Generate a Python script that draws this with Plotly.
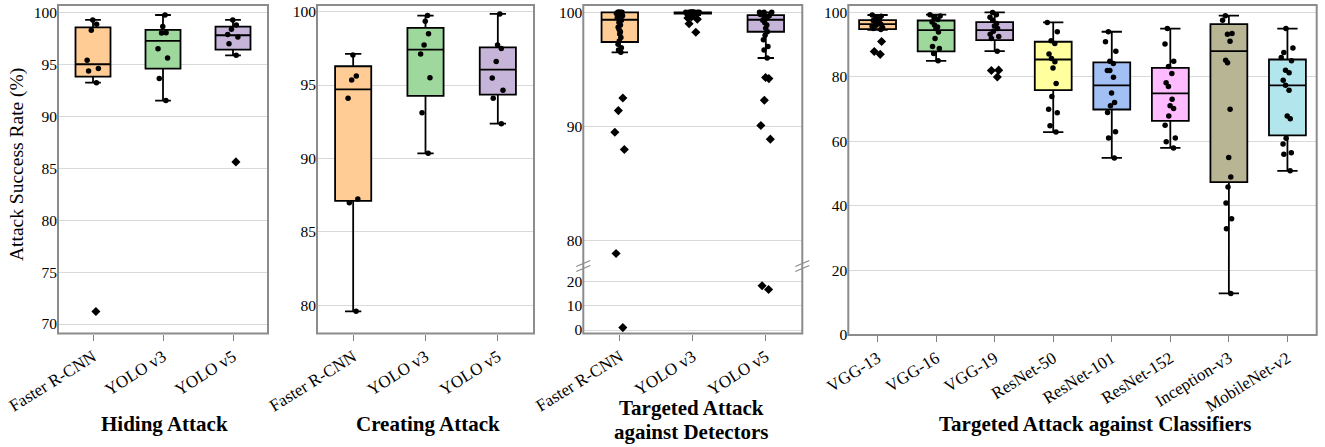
import plotly.graph_objects as go

W, H = 1325, 447
FONT = "Liberation Serif, Times New Roman, serif"

# ---------------- data ----------------
det_models = ["Faster R-CNN", "YOLO v3", "YOLO v5"]
cls_models = ["VGG-13", "VGG-16", "VGG-19", "ResNet-50", "ResNet-101",
              "ResNet-152", "Inception-v3", "MobileNet-v2"]

# Hiding attack
hide_q1 = [93.8, 94.58, 96.41]
hide_med = [95.0, 97.24, 97.79]
hide_q3 = [98.55, 98.3, 98.62]
hide_lo = [93.23, 91.5, 95.86]
hide_hi = [99.26, 99.74, 99.26]
hide_pts = [[99.26, 98.85, 98.27, 95.38, 94.58, 94.35, 93.23],
            [99.74, 98.62, 98.04, 98.0, 96.5, 95.6, 93.62, 91.5],
            [99.26, 98.78, 98.36, 97.85, 97.63, 96.98, 95.86]]
hide_out = [[71.2], [], [85.6]]

# Creating attack
create_q1 = [87.11, 94.26, 94.35]
create_med = [94.71, 97.41, 96.05]
create_q3 = [96.28, 98.89, 97.57]
create_lo = [79.59, 90.35, 92.37]
create_hi = [97.12, 99.73, 99.84]
create_pts = [[97.05, 95.62, 95.35, 94.1, 87.24, 86.99, 79.59],
              [99.73, 99.34, 98.5, 97.73, 97.12, 95.5, 93.12, 90.35],
              [99.84, 97.73, 97.48, 96.6, 95.48, 94.64, 94.1, 92.37]]
create_out = [[], [], []]

# Targeted attack against detectors
tdet_q1 = [97.4, 99.88, 98.3]
tdet_med = [99.35, 100.0, 99.35]
tdet_q3 = [100.0, 100.0, 99.76]
tdet_lo = [96.5, 99.75, 96.0]
tdet_hi = [100.0, 100.0, 100.0]
tdet_pts = [[100, 100, 100, 100, 100, 99.9, 99.8, 99.7, 99.6, 99.5, 99.3, 99.1,
             98.9, 98.7, 98.5, 98.3, 98.1, 97.8, 97.5, 97.2, 96.9, 96.7, 96.5],
            [100, 100, 100, 100, 100, 100, 100, 100, 100, 100, 100, 100,
             99.95, 99.9, 99.85, 99.8, 99.75],
            [100, 100, 100, 99.9, 99.8, 99.7, 99.6, 99.5, 99.3, 99.1, 98.9,
             98.6, 98.3, 98.0, 97.6, 97.0, 96.7, 96.0]]
tdet_out = [[92.5, 91.4, 89.5, 88.0, 78.9, 1.0],
            [99.6, 99.5, 99.4, 99.0, 98.25],
            [94.3, 94.2, 92.3, 90.1, 88.9, 18.3, 16.8]]

# Targeted attack against classifiers
tcls_q1 = [94.8, 87.9, 91.4, 75.9, 69.9, 66.4, 47.4, 61.9]
tcls_med = [96.4, 94.5, 94.5, 85.4, 77.4, 74.9, 88.0, 77.4]
tcls_q3 = [97.6, 97.5, 97.0, 90.9, 84.5, 82.8, 96.4, 85.4]
tcls_lo = [94.6, 85.0, 88.0, 62.9, 54.9, 58.0, 12.9, 50.9]
tcls_hi = [99.2, 99.3, 100.0, 96.9, 94.0, 95.0, 99.0, 95.0]
tcls_pts = [[99.2, 98.8, 98.3, 97.9, 97.5, 97.1, 96.8, 96.5, 96.3, 96.0, 95.7, 95.3, 95.0, 94.7],
            [99.3, 98.9, 98.4, 97.8, 97.0, 96.1, 95.5, 95.0, 93.9, 91.9, 89.4, 88.8, 87.3, 85.0],
            [100, 99.3, 98.5, 97.6, 96.6, 95.8, 95.0, 94.2, 93.2, 92.5, 91.9, 88.0],
            [96.9, 94.0, 91.2, 90.4, 87.1, 85.7, 84.7, 82.8, 78.0, 73.9, 70.0, 68.9, 64.9, 62.9],
            [94.0, 90.9, 88.0, 84.9, 84.2, 82.0, 82.0, 79.9, 75.0, 72.1, 71.1, 69.0, 63.0, 61.1, 54.9],
            [95.0, 90.2, 84.9, 83.2, 81.1, 78.2, 77.0, 73.1, 71.1, 70.2, 67.9, 65.0, 61.1, 59.9, 58.0],
            [99.0, 97.6, 93.5, 93.2, 91.1, 85.2, 84.4, 70.0, 55.0, 49.0, 45.9, 40.9, 36.0, 32.9, 12.9],
            [95.0, 89.0, 87.6, 86.0, 85.0, 82.1, 81.3, 79.0, 77.4, 75.9, 67.9, 67.0, 61.0, 59.2, 56.5, 56.0, 50.9]]
tcls_out = [[91.0, 87.9, 87.0], [], [82.1, 82.0, 80.0], [], [], [], [], []]

det_colors = ["#FFCC96", "#9ED89C", "#C6B4D9"]
cls_colors = ["#FFCC96", "#9ED89C", "#C6B4D9", "#FFFF9E", "#A3C0F5",
              "#FFBBFF", "#B8B594", "#B3E6EC"]

# ---------------- figure ----------------
fig = go.Figure()


def add_panel(cats, q1, med, q3, lo, hi, pts, outs, colors, axes_list,
              bw=0.5, ww=0.45, jit=0.4):
    for xa, ya in axes_list:
        for i, c in enumerate(cats):
            fig.add_trace(go.Box(
                x=[c], q1=[q1[i]], median=[med[i]], q3=[q3[i]],
                lowerfence=[lo[i]], upperfence=[hi[i]],
                fillcolor=colors[i], line=dict(color="black", width=1.8),
                width=bw, whiskerwidth=ww, boxpoints=False,
                xaxis=xa, yaxis=ya, showlegend=False, hoverinfo="skip"))
            fig.add_trace(go.Box(
                x=[c] * len(pts[i]), y=pts[i], boxpoints="all", jitter=jit,
                pointpos=0, fillcolor="rgba(0,0,0,0)",
                line=dict(color="rgba(0,0,0,0)", width=0),
                marker=dict(color="black", size=5.5, symbol="circle"),
                width=bw, whiskerwidth=0,
                xaxis=xa, yaxis=ya, showlegend=False))
            if outs[i]:
                fig.add_trace(go.Box(
                    x=[c] * len(outs[i]), y=outs[i], boxpoints="all", jitter=jit * 0.8,
                    pointpos=0, fillcolor="rgba(0,0,0,0)",
                    line=dict(color="rgba(0,0,0,0)", width=0),
                    marker=dict(color="black", size=7, symbol="diamond"),
                    width=bw, whiskerwidth=0,
                    xaxis=xa, yaxis=ya, showlegend=False))


add_panel(det_models, hide_q1, hide_med, hide_q3, hide_lo, hide_hi,
          hide_pts, hide_out, det_colors, [("x", "y")])
add_panel(det_models, create_q1, create_med, create_q3, create_lo, create_hi,
          create_pts, create_out, det_colors, [("x2", "y2")])
add_panel(det_models, tdet_q1, tdet_med, tdet_q3, tdet_lo, tdet_hi,
          tdet_pts, tdet_out, det_colors, [("x3", "y3"), ("x4", "y4")])
add_panel(cls_models, tcls_q1, tcls_med, tcls_q3, tcls_lo, tcls_hi,
          tcls_pts, tcls_out, cls_colors, [("x5", "y5")], bw=0.63, ww=0.55, jit=0.35)


def px_x(p):
    return p / W


def px_y(p):
    return 1 - p / H


top = px_y(5)
bot = px_y(333.5)
split = px_y(266)
bot4 = px_y(335)

ytick_font = dict(family=FONT, size=15.5, color="black")
xtick_font = dict(family=FONT, size=17, color="black")


def xaxis(cats, dom, anchor, show=True):
    return dict(domain=dom, anchor=anchor, type="category",
                categoryorder="array", categoryarray=cats,
                range=[-0.5, len(cats) - 0.5], automargin=False,
                showgrid=False, zeroline=False, showline=False,
                ticks="outside" if show else "", ticklen=6, tickwidth=1.3,
                tickcolor="#808080", tickangle=-32, tickfont=xtick_font,
                showticklabels=show, fixedrange=True)


def yaxis(dom, anchor, rng, vals):
    return dict(domain=dom, anchor=anchor, range=rng, tickvals=vals,
                automargin=False,
                showgrid=True, gridcolor="#d9d9d9", gridwidth=1,
                zeroline=False, showline=False, ticks="",
                tickfont=ytick_font, fixedrange=True)


d1 = [px_x(58), px_x(268)]
d2 = [px_x(317), px_x(534)]
d3 = [px_x(583.3), px_x(802.3)]
d4 = [px_x(848.3), px_x(1316.7)]

fig.update_layout(
    width=W, height=H, margin=dict(l=0, r=0, t=0, b=0, autoexpand=False),
    paper_bgcolor="white", plot_bgcolor="white", boxmode="overlay",
    font=dict(family=FONT, color="black"),
    xaxis=xaxis(det_models, d1, "y"),
    yaxis=yaxis([bot, top], "x", [69.09, 100.7], [70, 75, 80, 85, 90, 95, 100]),
    xaxis2=xaxis(det_models, d2, "y2"),
    yaxis2=yaxis([bot, top], "x2", [78.08, 100.45], [80, 85, 90, 95, 100]),
    xaxis3=xaxis(det_models, d3, "y3", show=False),
    yaxis3=yaxis([split, top], "x3", [77.8, 100.64], [80, 90, 100]),
    xaxis4=xaxis(det_models, d3, "y4"),
    yaxis4=yaxis([bot, split], "x4", [-1.45, 26.5], [0, 10, 20]),
    xaxis5=xaxis(cls_models, d4, "y5"),
    yaxis5=yaxis([bot4, top], "x5", [0, 102.3], [0, 20, 40, 60, 80, 100]),
)

frame = dict(color="#8c8c8c", width=2)
shapes = [
    dict(type="rect", xref="x domain", yref="y domain", x0=0, x1=1, y0=0, y1=1, line=frame),
    dict(type="rect", xref="x2 domain", yref="y2 domain", x0=0, x1=1, y0=0, y1=1, line=frame),
    dict(type="rect", xref="paper", yref="paper", x0=d3[0], x1=d3[1], y0=bot, y1=top, line=frame),
    dict(type="rect", xref="x5 domain", yref="y5 domain", x0=0, x1=1, y0=0, y1=1, line=frame),
]
# axis-break marks
for xb in (583.3, 802.3):
    for yc in (263.5, 268.5):
        shapes.append(dict(type="line", xref="paper", yref="paper",
                           x0=px_x(xb - 7), y0=px_y(yc + 3),
                           x1=px_x(xb + 7), y1=px_y(yc - 3),
                           line=dict(color="#8c8c8c", width=1.3)))
fig.update_layout(shapes=shapes)

title_font = dict(family=FONT, size=21, color="black")
ann = [
    dict(text="Attack Success Rate (%)", x=px_x(17), y=px_y(165), textangle=-90,
         font=dict(family=FONT, size=19.5, color="black")),
    dict(text="<b>Hiding Attack</b>", x=px_x(164), y=px_y(424), font=title_font),
    dict(text="<b>Creating Attack</b>", x=px_x(428), y=px_y(424), font=title_font),
    dict(text="<b>Targeted Attack</b>", x=px_x(692), y=px_y(408), font=title_font),
    dict(text="<b>against Detectors</b>", x=px_x(692), y=px_y(432), font=title_font),
    dict(text="<b>Targeted Attack against Classifiers</b>", x=px_x(1095), y=px_y(424),
         font=title_font),
]
for a in ann:
    a.update(xref="paper", yref="paper", showarrow=False, xanchor="center", yanchor="middle")
fig.update_layout(annotations=ann)

fig.write_html("out.html", config={"displayModeBar": False},
               post_script="document.body.style.margin='0';document.body.style.overflow='hidden';")
